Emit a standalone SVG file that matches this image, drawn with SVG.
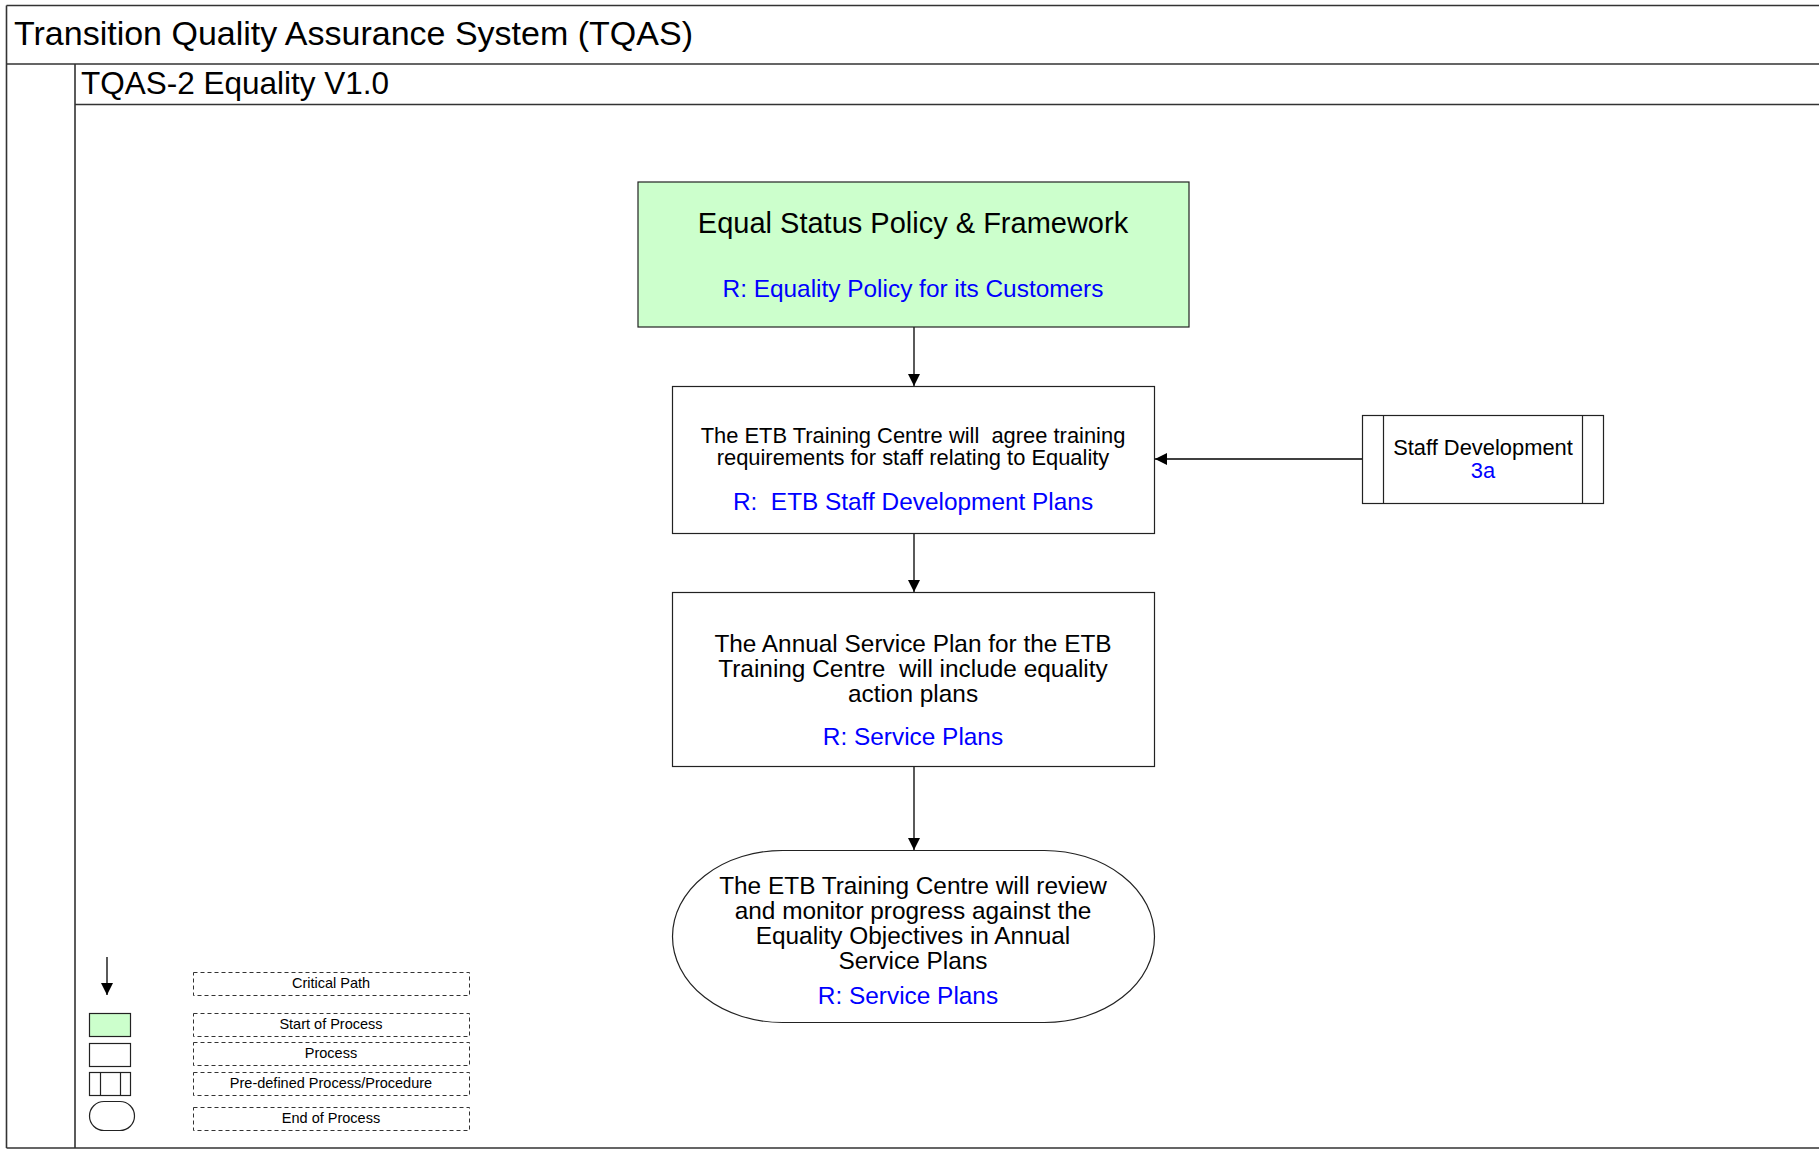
<svg xmlns="http://www.w3.org/2000/svg" width="1819" height="1152" viewBox="0 0 1819 1152">
  <style>
    .frame { fill: none; stroke: #333; stroke-width: 1.6; }
    .box { fill: #ffffff; stroke: #222; stroke-width: 1.2; }
    .start { fill: #ccffcc; stroke: #222; stroke-width: 1.2; }
    .conn { fill: none; stroke: #000; stroke-width: 1.3; }
    .dash { fill: #ffffff; stroke: #333; stroke-width: 1; stroke-dasharray: 4 3; }
    text { font-family: "Liberation Sans", Arial, sans-serif; fill: #000; }
    .ref { fill: #0000ff; }
    .c { text-anchor: middle; }
    .lg { font-size: 14.5px; }
  </style>
  <defs>
    <marker id="arrow" viewBox="0 0 12 12" refX="12" refY="6" markerWidth="12" markerHeight="12" markerUnits="userSpaceOnUse" orient="auto">
      <path d="M0,0 L12,6 L0,12 Z" fill="#000"/>
    </marker>
  </defs>

  <rect width="1819" height="1152" fill="#ffffff"/>

  <!-- swimlane frame -->
  <g id="frame">
    <path class="frame" d="M6.5,5.5 H1819 M6.5,5.5 V1148 M6.5,64 H1819 M75,64 V1148 M75,104.5 H1819 M6.5,1148 H1819"/>
    <text x="14" y="45" font-size="34">Transition Quality Assurance System (TQAS)</text>
    <text x="81" y="94" font-size="31.5">TQAS-2 Equality V1.0</text>
  </g>

  <!-- connectors -->
  <g id="connectors">
    <line class="conn" x1="914" y1="327" x2="914" y2="386" marker-end="url(#arrow)"/>
    <line class="conn" x1="914" y1="533" x2="914" y2="592" marker-end="url(#arrow)"/>
    <line class="conn" x1="914" y1="767" x2="914" y2="850" marker-end="url(#arrow)"/>
    <line class="conn" x1="1362" y1="459" x2="1155" y2="459" marker-end="url(#arrow)"/>
  </g>

  <!-- start node -->
  <g id="node-policy">
    <rect class="start" x="638" y="182" width="551" height="145"/>
    <text class="c" x="913" y="233" font-size="29">Equal Status Policy &amp; Framework</text>
    <text class="c ref" x="913" y="297" font-size="24.4">R: Equality Policy for its Customers</text>
  </g>

  <!-- process: training requirements -->
  <g id="node-training">
    <rect class="box" x="672.5" y="386.5" width="482" height="147"/>
    <text class="c" x="913" y="443" font-size="21.9" xml:space="preserve">The ETB Training Centre will  agree training</text>
    <text class="c" x="913" y="465" font-size="21.9">requirements for staff relating to Equality</text>
    <text class="c ref" x="913" y="510" font-size="24.4" xml:space="preserve">R:  ETB Staff Development Plans</text>
  </g>

  <!-- pre-defined process -->
  <g id="node-staff-dev">
    <rect class="box" x="1362.5" y="415.5" width="241" height="88"/>
    <line class="box" x1="1383.5" y1="415.5" x2="1383.5" y2="503.5"/>
    <line class="box" x1="1582.5" y1="415.5" x2="1582.5" y2="503.5"/>
    <text class="c" x="1483" y="455" font-size="21.9">Staff Development</text>
    <text class="c ref" x="1483" y="478" font-size="21.9">3a</text>
  </g>

  <!-- process: annual service plan -->
  <g id="node-service-plan">
    <rect class="box" x="672.5" y="592.5" width="482" height="174"/>
    <text class="c" x="913" y="652" font-size="24.4">The Annual Service Plan for the ETB</text>
    <text class="c" x="913" y="677" font-size="24.4" xml:space="preserve">Training Centre  will include equality</text>
    <text class="c" x="913" y="702" font-size="24.4">action plans</text>
    <text class="c ref" x="913" y="745" font-size="24.4">R: Service Plans</text>
  </g>

  <!-- end of process -->
  <g id="node-review">
    <rect class="box" x="672.5" y="850.5" width="482" height="172" rx="110" ry="86"/>
    <text class="c" x="913" y="894" font-size="24.4">The ETB Training Centre will review</text>
    <text class="c" x="913" y="919" font-size="24.4">and monitor progress against the</text>
    <text class="c" x="913" y="944" font-size="24.4">Equality Objectives in Annual</text>
    <text class="c" x="913" y="969" font-size="24.4">Service Plans</text>
    <text class="c ref" x="908" y="1004" font-size="24.4">R: Service Plans</text>
  </g>

  <!-- legend -->
  <g id="legend">
    <line class="conn" x1="107" y1="957" x2="107" y2="995" marker-end="url(#arrow)"/>
    <rect class="start" x="89.5" y="1013.5" width="41" height="23"/>
    <rect class="box" x="89.5" y="1043.5" width="41" height="23"/>
    <rect class="box" x="89.5" y="1072.5" width="41" height="23"/>
    <line class="box" x1="100.5" y1="1072.5" x2="100.5" y2="1095.5"/>
    <line class="box" x1="120.5" y1="1072.5" x2="120.5" y2="1095.5"/>
    <rect class="box" x="89.5" y="1101.5" width="45" height="29" rx="14.5" ry="14.5"/>

    <rect class="dash" x="193.5" y="972.5" width="276" height="23"/>
    <rect class="dash" x="193.5" y="1013.5" width="276" height="23"/>
    <rect class="dash" x="193.5" y="1042.5" width="276" height="23"/>
    <rect class="dash" x="193.5" y="1072.5" width="276" height="23"/>
    <rect class="dash" x="193.5" y="1107.5" width="276" height="23"/>
    <text class="c lg" x="331" y="988">Critical Path</text>
    <text class="c lg" x="331" y="1029">Start of Process</text>
    <text class="c lg" x="331" y="1058">Process</text>
    <text class="c lg" x="331" y="1088">Pre-defined Process/Procedure</text>
    <text class="c lg" x="331" y="1123">End of Process</text>
  </g>
</svg>
